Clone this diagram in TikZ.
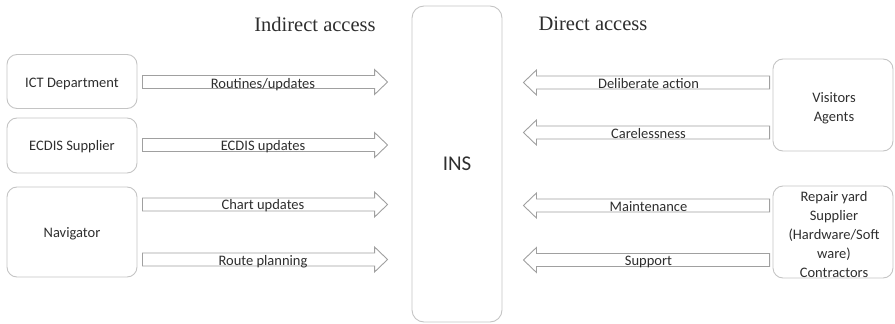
\documentclass[tikz,border=0pt]{standalone}
\usepackage{fontspec}
\setmainfont{Carlito}
\newfontfamily\headfont{Liberation Serif}
\usetikzlibrary{calc}

\definecolor{boxline}{HTML}{C4C4C4}
\definecolor{arrline}{HTML}{A0A0A0}
\definecolor{ink}{HTML}{2E2E2E}

\tikzset{
  actor/.style={draw=boxline, line width=0.9pt, rounded corners=10pt, inner sep=0pt},
  actortext/.style={text=ink, align=center, font=\fontsize{14.5}{19}\selectfont, inner sep=0pt},
  core/.style={draw=boxline, line width=0.9pt, rounded corners=12pt, text=ink,
    font=\fontsize{21}{24}\selectfont, inner sep=0pt},
  heading/.style={text=ink, font=\headfont\fontsize{20.5}{24}\selectfont, inner sep=0pt},
  flowlabel/.style={text=ink, font=\fontsize{14.5}{17}\selectfont, inner sep=0pt},
  arrowline/.style={draw=arrline, fill=white, line width=0.9pt, line join=miter},
}

% hollow block arrow from #1 to its tip #2
\newcommand\blockarrow[2]{%
  \path coordinate (hb) at ($(#2)!13pt!(#1)$);
  \draw[arrowline] ($(#1)!6.5pt!90:(#2)$) -- ($(hb)!6.5pt!90:(#2)$)
    -- ($(hb)!12.5pt!90:(#2)$) -- (#2) -- ($(hb)!12.5pt!-90:(#2)$)
    -- ($(hb)!6.5pt!-90:(#2)$) -- ($(#1)!6.5pt!-90:(#2)$) -- cycle;
}

\begin{document}
\begin{tikzpicture}[x=1pt, y=-1pt]
  \useasboundingbox (0,0) rectangle (895,324);

  % headings
  \node[heading] (ind) at (315,24) {Indirect access};
  \node[heading] (dir) at (593,24) {Direct access};

  % system box
  \node[core, minimum width=90pt, minimum height=316pt] (ins) at (457,164) {INS};

  % indirect actors
  \node[actor, minimum width=130pt, minimum height=54pt] (ict) at (72,81.5) {};
  \node[actor, minimum width=130pt, minimum height=55pt] (ecd) at (72,145.5) {};
  \node[actor, minimum width=130pt, minimum height=90pt] (nav) at (72,232) {};
  \node[actortext] (ictt) at ($(ict)+(0,2.5)$) {ICT Department};
  \node[actortext] (ecdt) at ($(ecd)+(0,1)$) {ECDIS Supplier};
  \node[actortext] (navt) at ($(nav)+(0,1.5)$) {Navigator};

  % direct actors
  \node[actor, minimum width=120pt, minimum height=92pt] (vis) at (833,105) {};
  \node[actor, minimum width=120pt, minimum height=92pt] (rep) at (833,232) {};
  \node[actortext] (vist) at ($(vis)+(1,3)$) {Visitors\\Agents};
  \node[actortext] (rept) at ($(rep)+(1,3)$)
    {Repair yard\\Supplier\\(Hardware/Soft\\ware)\\Contractors};

  % arrow end points
  \coordinate (l1s) at ($(ict.east)+(5,0.5)$);
  \coordinate (l2s) at ($(ecd.east)+(5,-0.5)$);
  \coordinate (l3s) at ($(nav.east)+(5,-27.5)$);
  \coordinate (l4s) at ($(nav.east)+(5,27.5)$);
  \foreach \a in {l1,l2,l3,l4}
    \coordinate (\a e) at ($(\a s -| ins.west)+(-24,0)$);

  \coordinate (r1s) at ($(vis.west)+(-3,-22.5)$);
  \coordinate (r2s) at ($(vis.west)+(-3,27.5)$);
  \coordinate (r3s) at ($(rep.west)+(-3,-26.5)$);
  \coordinate (r4s) at ($(rep.west)+(-3,28)$);
  \foreach \a in {r1,r2,r3,r4}
    \coordinate (\a e) at ($(\a s -| ins.east)+(21,0)$);

  % arrows
  \foreach \a in {l1,l2,l3,l4,r1,r2,r3,r4}
    {\blockarrow{\a s}{\a e}}

  % arrow labels
  \node[flowlabel] at ($(l1s)!0.5!(l1e)+(-2,2.5)$) {Routines/updates};
  \node[flowlabel] at ($(l2s)!0.5!(l2e)+(-2,2)$) {ECDIS updates};
  \node[flowlabel] at ($(l3s)!0.5!(l3e)+(-2,1.5)$) {Chart updates};
  \node[flowlabel] at ($(l4s)!0.5!(l4e)+(-2,2)$) {Route planning};
  \node[flowlabel] at ($(r1s)!0.5!(r1e)+(2,1)$) {Deliberate action};
  \node[flowlabel] at ($(r2s)!0.5!(r2e)+(2,1)$) {Carelessness};
  \node[flowlabel] at ($(r3s)!0.5!(r3e)+(2,1)$) {Maintenance};
  \node[flowlabel] at ($(r4s)!0.5!(r4e)+(2,2)$) {Support};
\end{tikzpicture}
\end{document}
